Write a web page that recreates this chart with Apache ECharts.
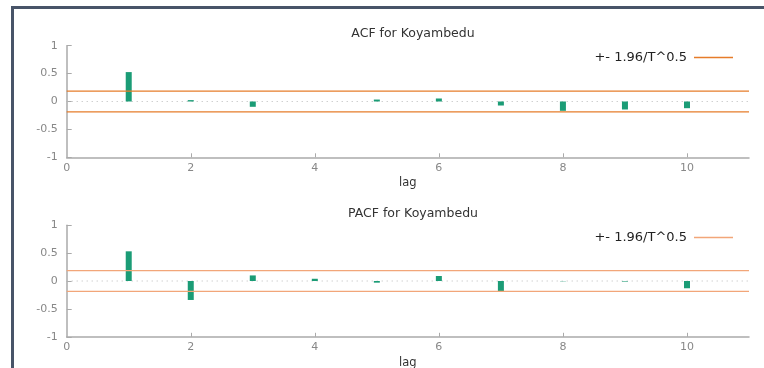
<!DOCTYPE html>
<html>
<head>
<meta charset="utf-8">
<script src="https://cdn.jsdelivr.net/npm/echarts@6/dist/echarts.min.js"></script>
<style>
  html, body { margin: 0; padding: 0; background: #fff; }
  #chart { width: 764px; height: 368px; }
</style>
</head>
<body>
<div id="chart"></div>
<script>
// Correlogram of the Koyambedu series, lags 1..10
const lags = [1, 2, 3, 4, 5, 6, 7, 8, 9, 10];
const acfValues = [0.527, 0.025, -0.095, 0.0, 0.035, 0.054, -0.072, -0.167, -0.143, -0.12];
const pacfValues = [0.532, -0.34, 0.1, 0.04, -0.03, 0.09, -0.19, -0.005, -0.01, -0.13];
const bandLimit = 0.186;            // 1.96 / sqrt(T)
const bandName = '+- 1.96/T^0.5';
const titles = ['ACF for Koyambedu', 'PACF for Koyambedu'];
const xTicks = [0, 2, 4, 6, 8, 10];
const yTicks = [-1, -0.5, 0, 0.5, 1];

const chart = echarts.init(document.getElementById('chart'), null, { renderer: 'canvas' });

const barColor = '#1b9c76';
const bandColors = ['#e67c2a', '#f2a679'];
const font = 'DejaVu Sans, Verdana, sans-serif';

const grids = [
  { left: 66.7, right: 15, top: 45.7, height: 111.6, outerBoundsMode: 'none', containLabel: false },
  { left: 66.7, right: 15, top: 225.2, height: 111.6, outerBoundsMode: 'none', containLabel: false }
];

function xAxis(i) {
  return {
    type: 'value', gridIndex: i, min: 0, max: 11, interval: 2,
    name: 'lag', nameLocation: 'middle', nameGap: 20,
    nameTextStyle: { color: '#333', fontFamily: font, fontSize: 11.5 },
    axisLine: { show: true, onZero: false, lineStyle: { color: '#aaa', width: 1.5 } },
    axisTick: { show: true, inside: true, length: 4, customValues: xTicks.slice(1), lineStyle: { color: '#aaa' } },
    axisLabel: { color: '#888', fontFamily: font, fontSize: 11, margin: 5, customValues: xTicks },
    splitLine: { show: false }
  };
}
function yAxis(i) {
  return {
    type: 'value', gridIndex: i, min: -1, max: 1, interval: 0.5,
    axisLine: { show: true, lineStyle: { color: '#aaa', width: 1.5 } },
    axisTick: { show: true, inside: true, length: 5, customValues: yTicks, lineStyle: { color: '#aaa' } },
    axisLabel: { color: '#888', fontFamily: font, fontSize: 11, margin: 9, customValues: yTicks },
    splitLine: { show: false }
  };
}

function panelSeries(i, values) {
  const zeroLine = {
    type: 'line', xAxisIndex: i, yAxisIndex: i, silent: true, symbol: 'none',
    data: [[0, 0], [11, 0]],
    lineStyle: { color: '#bbb', width: 1, type: [1, 4] }, z: 1
  };
  const bars = {
    type: 'bar', xAxisIndex: i, yAxisIndex: i, barWidth: 6,
    data: lags.map((l, k) => [l, values[k]]),
    itemStyle: { color: barColor }, z: 3
  };
  const upper = {
    type: 'line', name: bandName, xAxisIndex: i, yAxisIndex: i, silent: true, symbol: 'none',
    data: [[0, bandLimit], [11, bandLimit]],
    lineStyle: { color: bandColors[i], width: 1.3 }, itemStyle: { color: bandColors[i] }, z: 4
  };
  const lower = Object.assign({}, upper, { data: [[0, -bandLimit], [11, -bandLimit]] });
  return [zeroLine, bars, upper, lower];
}

const option = {
  animation: false,
  backgroundColor: '#fff',
  title: titles.map((t, i) => ({
    text: t, left: 408, top: i === 0 ? 22 : 202, textAlign: 'center',
    textStyle: { color: '#333', fontFamily: font, fontSize: 12.5, fontWeight: 'normal' }
  })),
  legend: [0, 1].map(i => ({
    data: [{ name: bandName, itemStyle: { color: bandColors[i] } }],
    right: 26, top: i === 0 ? 46 : 226, align: 'right',
    icon: 'rect', itemWidth: 39, itemHeight: 1.3, itemGap: 0,
    textStyle: { color: '#222', fontFamily: font, fontSize: 13, padding: [0, 2, 0, 0] },
    selectedMode: false
  })),
  grid: grids,
  xAxis: [xAxis(0), xAxis(1)],
  yAxis: [yAxis(0), yAxis(1)],
  series: [...panelSeries(0, acfValues), ...panelSeries(1, pacfValues)],
  graphic: [{
    type: 'polyline', silent: true,
    shape: { points: [[12.5, 368], [12.5, 7.5], [764, 7.5]] },
    style: { stroke: '#485468', lineWidth: 3, fill: null }
  }]
};
chart.setOption(option);
</script>
</body>
</html>
